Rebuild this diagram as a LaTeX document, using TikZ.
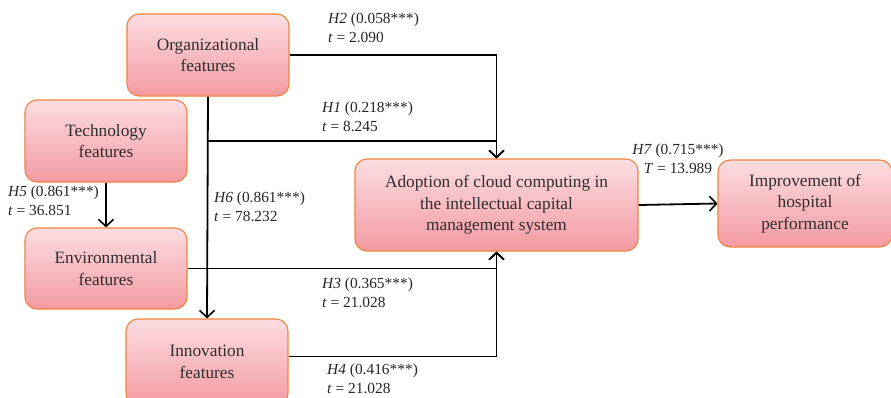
\documentclass[tikz,border=0pt]{standalone}
\usepackage{fontspec}
\setmainfont{Liberation Serif}
\usetikzlibrary{arrows.meta}
\definecolor{boxtop}{HTML}{FBDDE1}
\definecolor{boxbot}{HTML}{F49AA2}
\definecolor{boxline}{HTML}{F0843C}
\definecolor{txt}{HTML}{2E2E2E}
\tikzset{
  featbox/.style={draw=boxline, line width=1.1pt, rounded corners=12pt,
    top color=boxtop, bottom color=boxbot, text=txt, align=center,
    font=\fontsize{17.3}{21.5}\selectfont, inner sep=0pt},
  link/.style={line width=1.8pt, draw=black},
  arr/.style={link, -{Straight Barb[length=7pt,width=15pt,line width=1.6pt]}},
  lab/.style={font=\fontsize{15.4}{19}\selectfont, text=black!85, inner sep=0pt, anchor=north west, align=left}
}
\begin{document}
\begin{tikzpicture}[x=1pt,y=-1pt]
\useasboundingbox (0,0) rectangle (891,397);
\node[featbox, minimum width=162pt, minimum height=82pt] (org) at (208,55) {Organizational\\features};
\node[featbox, minimum width=162pt, minimum height=82pt] (tech) at (106,141) {Technology\\features};
\node[featbox, minimum width=162pt, minimum height=81pt] (env) at (106,268.5) {Environmental\\features};
\node[featbox, minimum width=162pt, minimum height=86pt] (innov) at (207,362) {Innovation\\features};
\node[featbox, minimum width=283pt, minimum height=92pt] (adopt) at (496.5,205) {Adoption of cloud computing in\\the intellectual capital\\management system};
\node[featbox, minimum width=174pt, minimum height=87pt] (impr) at (805,203.5) {Improvement of\\hospital\\performance};

\coordinate (j1) at (208,141);
\draw[arr] (org.east) -| (adopt.north);
\draw[arr] (j1) -| (adopt.north);
\draw[arr] (org.south) -- (innov.north);
\draw[arr] (tech.south) -- (env.north);
\draw[arr] (env.east) -| (adopt.south);
\draw[arr] ([yshift=5.5pt]innov.east) -| (adopt.south);
\draw[arr] (adopt.east) -- (impr.west);

\node[lab] (l2) at (328,13) {\textit{H2} (0.058***)\\\textit{t} = 2.090};
\node[lab] (l1) at (322,102) {\textit{H1} (0.218***)\\\textit{t} = 8.245};
\node[lab] (l5) at (8,186) {\textit{H5} (0.861***)\\\textit{t} = 36.851};
\node[lab] (l6) at (214,192) {\textit{H6} (0.861***)\\\textit{t} = 78.232};
\node[lab] (l3) at (322,278) {\textit{H3} (0.365***)\\\textit{t} = 21.028};
\node[lab] (l4) at (327,364) {\textit{H4} (0.416***)\\\textit{t} = 21.028};
\node[lab, anchor=north, align=center] (l7) at (678,144) {\textit{H7} (0.715***)\\\textit{T} = 13.989};
\end{tikzpicture}
\end{document}
